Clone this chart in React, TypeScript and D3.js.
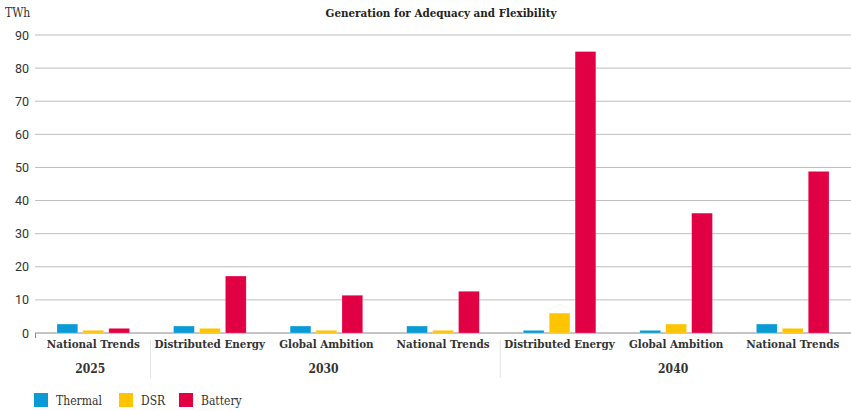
import React from "react";
import * as d3 from "d3";

const years = ["2025", "2030", "2040"];
const categories = [
  { year: "2025", scenario: "National Trends" },
  { year: "2030", scenario: "Distributed Energy" },
  { year: "2030", scenario: "Global Ambition" },
  { year: "2030", scenario: "National Trends" },
  { year: "2040", scenario: "Distributed Energy" },
  { year: "2040", scenario: "Global Ambition" },
  { year: "2040", scenario: "National Trends" },
];
const seriesNames = ["Thermal", "DSR", "Battery"];
const seriesColors = ["#0a9bd6", "#ffc400", "#e20045"];
const thermal = [2.7, 2.1, 2.1, 2.1, 0.8, 0.8, 2.7];
const dsr = [0.8, 1.4, 0.8, 0.8, 6.0, 2.7, 1.4];
const battery = [1.4, 17.2, 11.4, 12.6, 85.0, 36.2, 48.8];
const yTicks = [0, 10, 20, 30, 40, 50, 60, 70, 80, 90];

const W = 851;
const H = 411;
const slab = "'DejaVu Serif', serif";
const sans = "Roboto, 'Noto Sans', sans-serif";

export default function App() {
  const left = 35;
  const right = 851;
  const top = 35;
  const bottom = 333;
  const y = d3.scaleLinear().domain([0, 90]).range([bottom, top]);
  const x0 = d3
    .scaleBand<number>()
    .domain(categories.map((_, i) => i))
    .range([left, right])
    .paddingInner(0)
    .paddingOuter(0);
  const x1 = d3
    .scaleBand<number>()
    .domain([0, 1, 2])
    .range([22, x0.bandwidth() - 22])
    .paddingInner(0.2);
  const values = [thermal, dsr, battery];

  // year groups: span of category indices
  const yearSpans = years.map((yr) => {
    const idx = categories.map((c, i) => (c.year === yr ? i : -1)).filter((i) => i >= 0);
    return { yr, first: idx[0], last: idx[idx.length - 1] };
  });

  const legendX = [34, 119, 179];

  return (
    <svg width={W} height={H} style={{ position: "absolute", left: 0, top: 0, background: "#fff" }}>
      <text x={441} y={17} textAnchor="middle" fontFamily={slab} fontWeight="bold" fontSize={11.5} fontStretch="condensed" fill="#222">
        Generation for Adequacy and Flexibility
      </text>
      <text x={5} y={17} fontFamily={slab} fontSize={12} fontStretch="condensed" fill="#333">
        TWh
      </text>
      {yTicks.map((t) => (
        <g key={t}>
          <line x1={left} x2={right} y1={y(t)} y2={y(t)} stroke={t === 0 ? "#8a8a8a" : "#bdbdbd"} strokeWidth={1} />
          <text x={29} y={y(t) + 4.5} textAnchor="end" fontFamily={sans} fontSize={12.5} fill="#333">
            {t}
          </text>
        </g>
      ))}
      <line x1={left + 0.5} x2={left + 0.5} y1={bottom} y2={bottom + 5} stroke="#8a8a8a" />
      {categories.map((c, i) =>
        values.map((vals, s) => {
          const bx = (x0(i) as number) + (x1(s) as number);
          return (
            <rect
              key={`${i}-${s}`}
              x={bx}
              y={y(vals[i])}
              width={x1.bandwidth()}
              height={bottom - y(vals[i])}
              fill={seriesColors[s]}
              stroke="#fff"
              strokeOpacity={0.4}
              strokeWidth={0.5}
            />
          );
        })
      )}
      {categories.map((c, i) => (
        <text
          key={`c${i}`}
          x={(x0(i) as number) + x0.bandwidth() / 2}
          y={348}
          textAnchor="middle"
          fontFamily={slab}
          fontWeight="bold"
          fontStretch="condensed"
          fontSize={11.5}
          fill="#333"
        >
          {c.scenario}
        </text>
      ))}
      {yearSpans.map((s) => {
        const x1p = x0(s.first) as number;
        const x2p = (x0(s.last) as number) + x0.bandwidth();
        return (
          <g key={s.yr}>
            <text x={(x1p + x2p) / 2 - 3} y={373} textAnchor="middle" fontFamily={slab} fontWeight="bold" fontStretch="condensed" fontSize={12} fill="#333">
              {s.yr}
            </text>
            {s.first > 0 && (
              <line x1={x1p - 1} x2={x1p - 1} y1={340} y2={378} stroke="#e3e3e3" strokeWidth={1} />
            )}
          </g>
        );
      })}
      {seriesNames.map((n, s) => (
        <g key={n}>
          <rect x={legendX[s]} y={393} width={14} height={14} fill={seriesColors[s]} />
          <text x={legendX[s] + 22} y={404.5} fontFamily={slab} fontSize={12} fontStretch="condensed" fill="#333">
            {n}
          </text>
        </g>
      ))}
    </svg>
  );
}
